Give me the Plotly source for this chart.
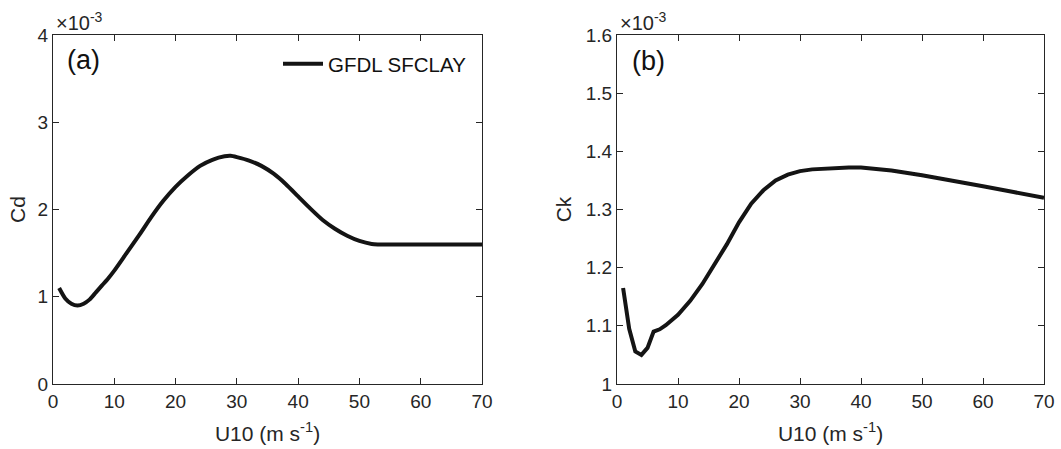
import plotly.graph_objects as go

# Panel (a): drag coefficient
u10_cd = [1, 2, 3, 4, 5, 6, 7, 8, 9, 10, 12, 14, 16, 18, 20, 22, 24, 26, 28, 29, 30,
          32, 34, 36, 38, 40, 42, 44, 46, 48, 50, 52, 53, 70]
cd = [1.10, 0.98, 0.92, 0.90, 0.92, 0.97, 1.05, 1.13, 1.21, 1.30, 1.50, 1.70, 1.91,
      2.10, 2.26, 2.39, 2.50, 2.57, 2.61, 2.615, 2.60, 2.56, 2.50, 2.41, 2.29, 2.15,
      2.01, 1.88, 1.78, 1.70, 1.64, 1.605, 1.60, 1.60]

# Panel (b): enthalpy coefficient
u10_ck = [1, 2, 3, 4, 5, 6, 7, 8, 10, 12, 14, 16, 18, 20, 22, 24, 26, 28, 30, 32, 35,
          38, 40, 45, 50, 55, 60, 65, 70]
ck = [1.165, 1.095, 1.056, 1.050, 1.062, 1.090, 1.094, 1.101, 1.119, 1.143, 1.172,
      1.205, 1.240, 1.278, 1.310, 1.333, 1.350, 1.360, 1.366, 1.369, 1.371, 1.372,
      1.372, 1.367, 1.359, 1.350, 1.340, 1.330, 1.320]

series_name = "GFDL SFCLAY"
x_ticks = [0, 10, 20, 30, 40, 50, 60, 70]
cd_ticks = [0, 1, 2, 3, 4]
ck_ticks = [1.0, 1.1, 1.2, 1.3, 1.4, 1.5, 1.6]
ck_tick_labels = ["1", "1.1", "1.2", "1.3", "1.4", "1.5", "1.6"]

FONT = "Liberation Sans, Arial, Helvetica, sans-serif"
TXT = "#262626"
LINE = "#141414"

fig = go.Figure()
fig.add_trace(go.Scatter(x=u10_cd, y=cd, mode="lines", name=series_name,
                         line=dict(color=LINE, width=4, shape="spline", smoothing=0.6),
                         xaxis="x", yaxis="y", showlegend=True))
fig.add_trace(go.Scatter(x=u10_ck, y=ck, mode="lines", name=series_name,
                         line=dict(color=LINE, width=4),
                         xaxis="x2", yaxis="y2", showlegend=False))

axis_common = dict(showline=True, linecolor=TXT, linewidth=1, mirror="ticks",
                   ticks="inside", ticklen=6, tickcolor=TXT, showgrid=False,
                   zeroline=False, automargin=False,
                   tickfont=dict(family=FONT, size=19, color=TXT))

W, H = 1061, 449
ya_dom = [1 - 384 / H, 1 - 35 / H]
xt = dict(text="U10 (m s<sup>-1</sup>)", font=dict(size=21, color=TXT), standoff=15)
fig.update_layout(
    width=W, height=H, margin=dict(l=0, r=0, t=0, b=0),
    paper_bgcolor="white", plot_bgcolor="white",
    font=dict(family=FONT, color=TXT),
    xaxis=dict(domain=[53 / W, 482 / W], range=[0, 70], tickvals=x_ticks,
               title=xt, anchor="y", **axis_common),
    yaxis=dict(domain=ya_dom, range=[0, 4], tickvals=cd_ticks,
               title=dict(text="Cd", font=dict(size=21, color=TXT), standoff=6),
               anchor="x", **axis_common),
    xaxis2=dict(domain=[617 / W, 1044 / W], range=[0, 70], tickvals=x_ticks,
                title=xt, anchor="y2", **axis_common),
    yaxis2=dict(domain=ya_dom, range=[1.0, 1.6], tickvals=ck_ticks, ticktext=ck_tick_labels,
                title=dict(text="Ck", font=dict(size=21, color=TXT), standoff=8),
                anchor="x2", **axis_common),
    legend=dict(x=472 / W, y=1 - 44 / H, xanchor="right", yanchor="top",
                bgcolor="rgba(0,0,0,0)", font=dict(family=FONT, size=20.5, color="#111"),
                itemwidth=40, tracegroupgap=0),
    showlegend=True,
)

annots = [
    dict(x=54 / W, y=1 - 21 / H, text="×10<sup>-3</sup>", font=dict(size=20, color=TXT)),
    dict(x=618 / W, y=1 - 21 / H, text="×10<sup>-3</sup>", font=dict(size=20, color=TXT)),
    dict(x=65 / W, y=1 - 60 / H, text="(a)", font=dict(size=27, color="#111")),
    dict(x=630 / W, y=1 - 61 / H, text="(b)", font=dict(size=27, color="#111")),
]
for a in annots:
    fig.add_annotation(xref="paper", yref="paper", x=a["x"], y=a["y"], text=a["text"],
                       showarrow=False, xanchor="left", yanchor="middle",
                       font=dict(family=FONT, **a["font"]))

fig.write_html("out.html", config={"displayModeBar": False},
               post_script="document.body.style.margin='0';document.body.style.overflow='hidden';")
